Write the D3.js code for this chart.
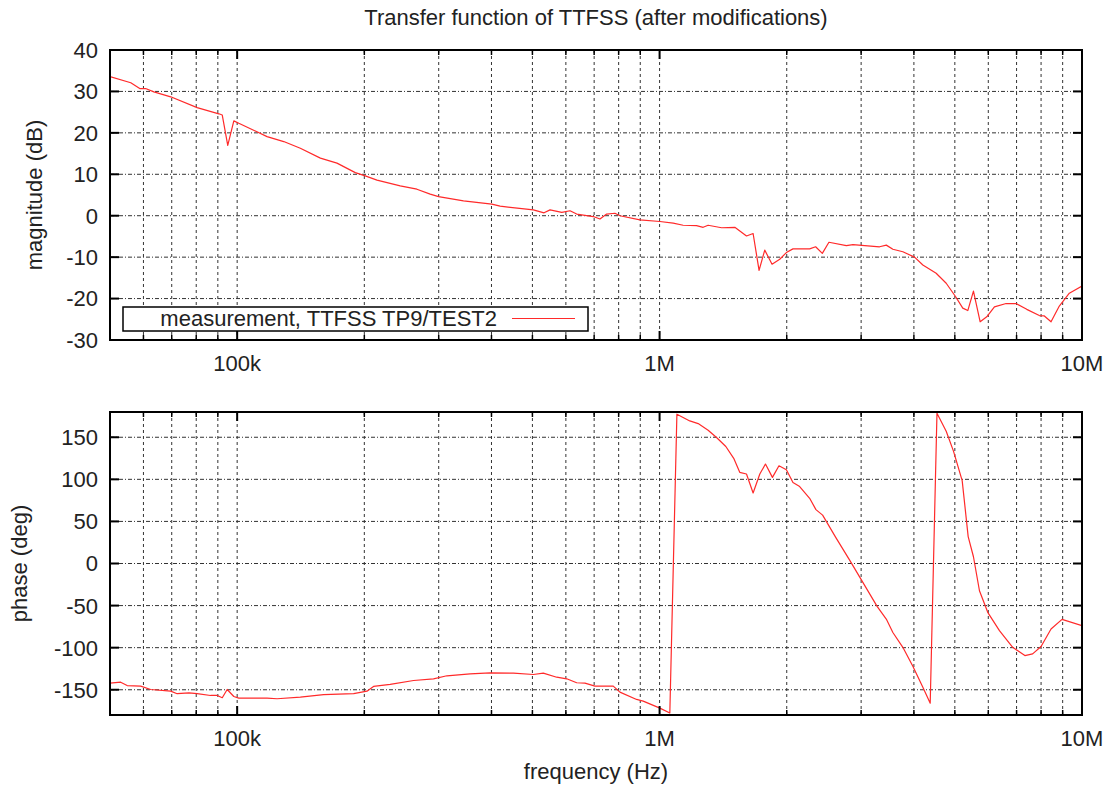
<!DOCTYPE html>
<html>
<head>
<meta charset="utf-8">
<script src="https://cdn.jsdelivr.net/npm/d3@7"></script>
<style>
  html, body { margin: 0; padding: 0; background: #fff; }
  svg { display: block; }
  text { font-family: "Liberation Sans", Arial, Helvetica, sans-serif; fill: #222; }
</style>
</head>
<body>
<svg id="chart" width="1112" height="788"></svg>
<script>
// ---- data ----
const title = "Transfer function of TTFSS (after modifications)";
const seriesName = "measurement, TTFSS TP9/TEST2";
const xLabel = "frequency (Hz)";
const magLabel = "magnitude (dB)";
const phaseLabel = "phase (deg)";

const xMajorTicks = [1e5, 1e6, 1e7];
const xMajorLabels = ["100k", "1M", "10M"];
const xMinorTicks = [6e4, 7e4, 8e4, 9e4,
  2e5, 3e5, 4e5, 5e5, 6e5, 7e5, 8e5, 9e5,
  2e6, 3e6, 4e6, 5e6, 6e6, 7e6, 8e6, 9e6];
const magTicks = [-30, -20, -10, 0, 10, 20, 30, 40];
const phaseTicks = [-150, -100, -50, 0, 50, 100, 150];

// magnitude: [frequency Hz, dB]
const magnitude = [
  [50000,33.6],[56000,32.1],[58800,30.7],[60700,30.7],[63500,29.9],[69600,28.7],
  [80400,26.1],[90500,24.6],[92200,24.3],[95000,17.0],[98200,22.9],[100900,22.3],
  [117700,19.1],[128900,17.9],[141100,16.3],[157400,13.9],[172300,12.7],[190400,10.4],
  [201000,9.6],[214300,8.6],[243200,7.2],[266400,6.4],[286400,5.2],[299700,4.6],
  [343400,3.6],[400700,2.8],[419300,2.3],[502600,1.4],[532700,0.7],[550400,1.4],
  [586700,0.8],[613800,1.2],[636500,0.4],[696600,-0.2],[722600,-0.8],[749400,0.4],
  [784000,0.6],[805600,0.0],[898300,-1.0],[1001600,-1.4],[1077000,-1.8],[1137000,-2.3],
  [1223000,-2.4],[1268000,-2.8],[1303000,-2.3],[1402000,-2.9],[1507000,-2.8],[1606000,-4.9],
  [1665000,-4.3],[1720000,-13.2],[1774000,-8.3],[1846000,-11.7],[1925000,-10.5],[1996000,-8.9],
  [2069000,-8.0],[2266000,-8.0],[2341000,-7.5],[2428000,-9.1],[2517000,-6.4],[2768000,-7.2],
  [2869000,-7.0],[3318000,-7.5],[3441000,-7.1],[3567000,-8.1],[3766000,-8.7],[4014000,-10.0],
  [4200000,-11.9],[4516000,-13.9],[4770000,-16.3],[5018000,-19.5],[5221000,-22.3],[5366000,-22.9],
  [5534000,-18.2],[5740000,-25.6],[5950000,-24.4],[6204000,-22.0],[6613000,-21.2],[6982000,-21.2],
  [7400000,-22.6],[7925000,-24.1],[8145000,-24.2],[8447000,-25.6],[8837000,-21.8],[9333000,-18.7],
  [10000000,-17.0]
];

// phase: [frequency Hz, degrees]
const phase = [
  [50000,-142.2],[53000,-141],[54900,-145],[59100,-145.7],[62400,-149.7],[69600,-151.7],
  [72100,-154.7],[76900,-153.6],[80400,-154.7],[86500,-156.8],[89700,-156.8],[92200,-159.5],
  [94700,-149.7],[98200,-158],[100900,-160],[117700,-160],[124300,-160.7],[141100,-158.8],
  [160200,-155.9],[188700,-154.7],[202900,-151.7],[210300,-146.1],[230300,-143.7],[261600,-139],
  [291600,-137],[313700,-133.4],[356000,-131.1],[397000,-130],[450700,-130.3],[502600,-131.9],
  [530600,-130.3],[570800,-135.1],[602700,-137],[636500,-141.7],[665900,-142.2],[703100,-145.7],
  [776800,-145.7],[805600,-152.8],[882300,-161.5],[914600,-163.5],[1001600,-171.8],[1057500,-177.7],
  [1099000,177.4],[1179000,169.4],[1234000,166.2],[1303000,158.4],[1364000,149.7],[1435000,139],
  [1498000,125],[1548000,108.3],[1606000,106.3],[1665000,83.8],[1727000,106.3],[1781000,118.2],
  [1850000,102.3],[1917000,116.1],[1996000,111.4],[2069000,96.3],[2146000,91.4],[2266000,77.5],
  [2345000,64],[2432000,57.5],[2612000,31],[2818000,4],[2992000,-18],[3273000,-51],
  [3441000,-66],[3567000,-82],[3766000,-99.6],[3977000,-122],[4200000,-147],[4372000,-165.9],
  [4536000,178.5],[4770000,157.1],[4963000,133.5],[5204000,98.5],[5377000,32],[5534000,8],
  [5718000,-32.4],[5982000,-58],[6376000,-79.8],[6854000,-99.6],[7324000,-109.4],[7641000,-107.4],
  [8000000,-98.7],[8447000,-77.8],[8968000,-66.4],[10000000,-73.9]
];

// ---- layout ----
const svg = d3.select("#chart");
const left = 110, right = 1082;
const top1 = 50, bot1 = 340;
const top2 = 412, bot2 = 715;
const fontSize = 22;
const lineColor = "#ff2a2a";

const x = d3.scaleLog().domain([5e4, 1e7]).range([left, right]);
const yMag = d3.scaleLinear().domain([-30, 40]).range([bot1, top1]);
const yPh = d3.scaleLinear().domain([-180, 180]).range([bot2, top2]);

function panel(y, top, bot, yTicks, data, clipId) {
  const g = svg.append("g");
  const allX = xMajorTicks.concat(xMinorTicks);
  // grid
  g.selectAll(".vg").data(allX).enter().append("line")
    .attr("x1", d => x(d)).attr("x2", d => x(d))
    .attr("y1", top).attr("y2", bot)
    .attr("stroke", "#333").attr("stroke-width", 1)
    .attr("stroke-dasharray", "3,3");
  g.selectAll(".hg").data(yTicks).enter().append("line")
    .attr("x1", left).attr("x2", right)
    .attr("y1", d => y(d)).attr("y2", d => y(d))
    .attr("stroke", "#333").attr("stroke-width", 1)
    .attr("stroke-dasharray", "4,2,1,2");

  // curve
  svg.append("clipPath").attr("id", clipId).append("rect")
    .attr("x", left).attr("y", top).attr("width", right - left).attr("height", bot - top);
  const line = d3.line().x(d => x(d[0])).y(d => y(d[1]));
  g.append("path").datum(data)
    .attr("clip-path", `url(#${clipId})`)
    .attr("d", line).attr("fill", "none")
    .attr("stroke", lineColor).attr("stroke-width", 1.2)
    .attr("stroke-linejoin", "round");

  // ticks (inward, on all four sides)
  const majLen = 9, minLen = 5;
  xMajorTicks.forEach(t => {
    g.append("line").attr("x1", x(t)).attr("x2", x(t)).attr("y1", bot).attr("y2", bot - majLen)
      .attr("stroke", "#000").attr("stroke-width", 2);
    g.append("line").attr("x1", x(t)).attr("x2", x(t)).attr("y1", top).attr("y2", top + majLen)
      .attr("stroke", "#000").attr("stroke-width", 2);
  });
  xMinorTicks.forEach(t => {
    g.append("line").attr("x1", x(t)).attr("x2", x(t)).attr("y1", bot).attr("y2", bot - minLen)
      .attr("stroke", "#000").attr("stroke-width", 1.5);
    g.append("line").attr("x1", x(t)).attr("x2", x(t)).attr("y1", top).attr("y2", top + minLen)
      .attr("stroke", "#000").attr("stroke-width", 1.5);
  });
  yTicks.forEach(t => {
    g.append("line").attr("x1", left).attr("x2", left + majLen).attr("y1", y(t)).attr("y2", y(t))
      .attr("stroke", "#000").attr("stroke-width", 2);
    g.append("line").attr("x1", right).attr("x2", right - majLen).attr("y1", y(t)).attr("y2", y(t))
      .attr("stroke", "#000").attr("stroke-width", 2);
  });

  // border
  g.append("rect").attr("x", left).attr("y", top).attr("width", right - left).attr("height", bot - top)
    .attr("fill", "none").attr("stroke", "#000").attr("stroke-width", 2);

  // y tick labels
  g.selectAll(".yl").data(yTicks).enter().append("text")
    .attr("x", left - 12).attr("y", d => y(d)).attr("dy", "0.36em")
    .attr("text-anchor", "end").attr("font-size", fontSize)
    .text(d => d);
  // x tick labels
  g.selectAll(".xl").data(xMajorTicks).enter().append("text")
    .attr("x", d => x(d)).attr("y", bot + 31)
    .attr("text-anchor", "middle").attr("font-size", fontSize)
    .text((d, i) => xMajorLabels[i]);
  return g;
}

const g1 = panel(yMag, top1, bot1, magTicks, magnitude, "clip1");
const g2 = panel(yPh, top2, bot2, phaseTicks, phase, "clip2");

// title & axis labels
svg.append("text").attr("x", (left + right) / 2).attr("y", 25)
  .attr("text-anchor", "middle").attr("font-size", fontSize).text(title);
svg.append("text").attr("x", (left + right) / 2).attr("y", 779)
  .attr("text-anchor", "middle").attr("font-size", fontSize).text(xLabel);
svg.append("text").attr("transform", `translate(42,${(top1 + bot1) / 2}) rotate(-90)`)
  .attr("text-anchor", "middle").attr("font-size", fontSize).text(magLabel);
svg.append("text").attr("transform", `translate(27,${(top2 + bot2) / 2}) rotate(-90)`)
  .attr("text-anchor", "middle").attr("font-size", fontSize).text(phaseLabel);

// legend
const lg = svg.append("g");
lg.append("rect").attr("x", 123).attr("y", 307).attr("width", 465).attr("height", 24)
  .attr("fill", "#fff").attr("stroke", "#000").attr("stroke-width", 1.5);
lg.append("text").attr("x", 497).attr("y", 326).attr("text-anchor", "end")
  .attr("font-size", fontSize).text(seriesName);
lg.append("line").attr("x1", 512).attr("x2", 575).attr("y1", 318.5).attr("y2", 318.5)
  .attr("stroke", lineColor).attr("stroke-width", 1.2);
</script>
</body>
</html>
